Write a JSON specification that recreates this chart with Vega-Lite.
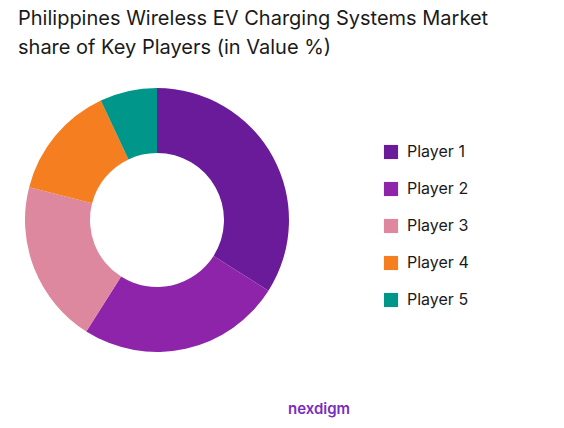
{
  "$schema": "https://vega.github.io/schema/vega-lite/v6.json",
  "background": "white",
  "padding": {"left": 18, "top": 9, "right": 10, "bottom": 5},
  "title": {
    "text": ["Philippines Wireless EV Charging Systems Market", "share of Key Players (in Value %)"],
    "anchor": "start",
    "dx": -7,
    "font": "Inter",
    "fontSize": 20,
    "fontWeight": "normal",
    "lineHeight": 29,
    "color": "#1a1a1a",
    "offset": 30
  },
  "vconcat": [
    {
      "width": 264,
      "height": 264,
      "title": {
        "text": "nexdigm",
        "orient": "bottom",
        "anchor": "start",
        "dx": 263,
        "offset": 50,
        "font": "Inter",
        "fontSize": 15,
        "fontWeight": 600,
        "color": "#7b2cbf"
      },
      "data": {
        "values": [
          {"player": "Player 1", "share": 34},
          {"player": "Player 2", "share": 25},
          {"player": "Player 3", "share": 20},
          {"player": "Player 4", "share": 14},
          {"player": "Player 5", "share": 7}
        ]
      },
      "mark": {"type": "arc", "innerRadius": 67, "outerRadius": 132},
      "encoding": {
        "theta": {"field": "share", "type": "quantitative", "stack": true},
        "color": {
          "field": "player",
          "type": "nominal",
          "scale": {
            "domain": ["Player 1", "Player 2", "Player 3", "Player 4", "Player 5"],
            "range": ["#6a1b9a", "#8e24aa", "#de88a0", "#f57f20", "#00968a"]
          },
          "legend": {
            "title": null,
            "orient": "none",
            "legendX": 358,
            "legendY": 56,
            "padding": 0,
            "symbolType": "square",
            "symbolSize": 200,
            "symbolStrokeWidth": 0,
            "labelFont": "Inter",
            "labelFontSize": 16,
            "labelColor": "#1a1a1a",
            "labelOffset": 8,
            "rowPadding": 21
          }
        },
        "tooltip": [
          {"field": "player", "type": "nominal"},
          {"field": "share", "type": "quantitative"}
        ]
      }
    }
  ],
  "config": {"view": {"stroke": null}}
}
